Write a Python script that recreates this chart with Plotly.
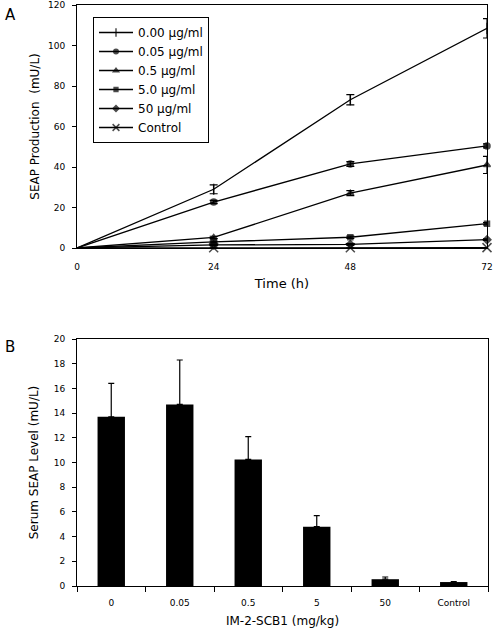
import plotly.graph_objects as go

# ---- Panel A data ----
time_h = [0, 24, 48, 72]
series_names = ["0.00 \u03bcg/ml", "0.05 \u03bcg/ml", "0.5 \u03bcg/ml", "5.0 \u03bcg/ml", "50 \u03bcg/ml", "Control"]
seap_000 = [0, 29, 73.2, 108.5]
seap_000_err = [0, 2.2, 2.5, 4.8]
seap_005 = [0, 22.7, 41.5, 50.4]
seap_005_err = [0, 0.8, 1.2, 1.0]
seap_05 = [0, 5.2, 27.1, 41]
seap_05_err = [0, 0.6, 1.2, 4.2]
seap_5 = [0, 3.0, 5.3, 12.0]
seap_5_err = [0, 0.4, 0.6, 0.6]
seap_50 = [0, 1.5, 1.8, 4.1]
seap_50_err = [0, 0.3, 0.4, 0.4]
seap_ctrl = [0, 0.1, 0.1, 0.2]
seap_ctrl_err = [0, 0, 0, 0]

# ---- Panel B data ----
dose_labels = ["0", "0.05", "0.5", "5", "50", "Control"]
serum_seap = [13.7, 14.7, 10.25, 4.8, 0.55, 0.32]
serum_err = [2.7, 3.6, 1.85, 0.9, 0.18, 0.04]

font_family = "DejaVu Sans"

fig = go.Figure()

series = [
    (series_names[0], seap_000, seap_000_err, "line-ns", 8),
    (series_names[1], seap_005, seap_005_err, "circle", 6),
    (series_names[2], seap_05, seap_05_err, "triangle-up", 6),
    (series_names[3], seap_5, seap_5_err, "square", 5),
    (series_names[4], seap_50, seap_50_err, "diamond", 6),
    (series_names[5], seap_ctrl, seap_ctrl_err, "x-thin", 9),
]
for name, y, err, sym, sz in series:
    fig.add_trace(go.Scatter(
        x=time_h, y=y, name=name, mode="lines+markers",
        line=dict(color="black", width=1.3),
        marker=dict(symbol=sym, size=[0] + [sz] * (len(y) - 1), color="black",
                    line=dict(color="black", width=1.5)),
        error_y=dict(type="data", array=err, visible=True, color="black",
                     thickness=1.2, width=4),
        cliponaxis=False,
        xaxis="x", yaxis="y",
    ))

fig.add_trace(go.Bar(
    x=dose_labels, y=serum_seap, marker=dict(color="black", line=dict(width=0)),
    width=0.4, showlegend=False,
    error_y=dict(type="data", symmetric=False, array=serum_err,
                 arrayminus=[0] * len(serum_err), color="black",
                 thickness=1.2, width=3),
    xaxis="x2", yaxis="y2",
))

W, H = 496, 637
def px_x(p):
    return p / W
def px_y(p):
    return 1 - p / H

axis_common = dict(showgrid=False, zeroline=False, showline=True, linecolor="black",
                   linewidth=1, mirror=True, color="black", automargin=False,
                   tickfont=dict(size=9, family=font_family, color="black"))

fig.update_layout(
    width=W, height=H,
    margin=dict(l=0, r=0, t=0, b=0, autoexpand=False),
    paper_bgcolor="white", plot_bgcolor="white",
    font=dict(family=font_family, color="black"),
    showlegend=True,
    legend=dict(x=px_x(93), y=px_y(17), xanchor="left", yanchor="top",
                bordercolor="black", borderwidth=1, bgcolor="white",
                font=dict(size=12, family=font_family, color="black"),
                itemwidth=34, tracegroupgap=0),
    xaxis=dict(axis_common, domain=[px_x(77), px_x(487)], range=[0, 72],
               tickvals=time_h, ticks="", anchor="y", ticklabelstandoff=10,
               title=dict(text="Time (h)", font=dict(size=13), standoff=8)),
    yaxis=dict(axis_common, domain=[px_y(248), px_y(5)], range=[0, 120],
               dtick=20, ticks="outside", ticklen=4, anchor="x", ticklabelstandoff=5,
               title=dict(text="SEAP Production  (mU/L)", font=dict(size=12), standoff=5)),
    xaxis2=dict(axis_common, domain=[px_x(77), px_x(488)], type="category",
                ticks="outside", tickson="boundaries", ticklen=5, anchor="y2",
                range=[-0.5, 5.5], ticklabelstandoff=8,
                title=dict(text="IM-2-SCB1 (mg/kg)", font=dict(size=12), standoff=9)),
    yaxis2=dict(axis_common, domain=[px_y(586), px_y(339)], range=[0, 20],
                dtick=2, ticks="outside", ticklen=4, anchor="x2", ticklabelstandoff=5,
                title=dict(text="Serum SEAP Level (mU/L)", font=dict(size=12), standoff=12)),
    annotations=[
        dict(text="A", x=px_x(3), y=px_y(4), xref="paper", yref="paper",
             xanchor="left", yanchor="top", showarrow=False,
             font=dict(size=15, family=font_family, color="black")),
        dict(text="B", x=px_x(3), y=px_y(336), xref="paper", yref="paper",
             xanchor="left", yanchor="top", showarrow=False,
             font=dict(size=15, family=font_family, color="black")),
    ],
)

fig.write_html("out.html", config={"displayModeBar": False},
               post_script="document.body.style.margin='0';document.body.style.overflow='hidden';")
